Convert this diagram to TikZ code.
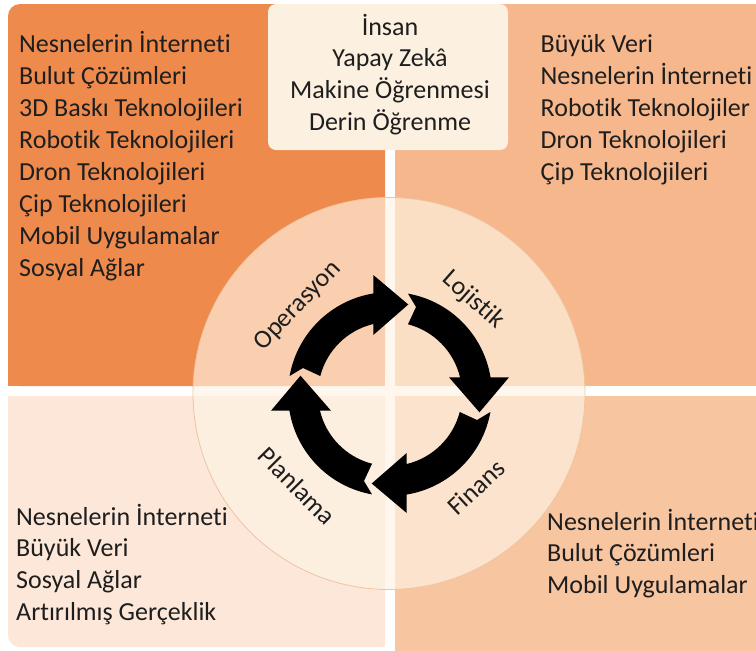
\documentclass[tikz,border=0pt]{standalone}
\usepackage{fontspec}
\setmainfont[Ligatures=NoCommon]{Carlito}
\definecolor{qtl}{HTML}{EF8A4D}
\definecolor{qtr}{HTML}{F6B78C}
\definecolor{qbl}{HTML}{FCE7D8}
\definecolor{qbr}{HTML}{F8C5A1}
\definecolor{boxc}{HTML}{FCF1E0}
\definecolor{ovc}{HTML}{FFF4E4}
\definecolor{cbord}{HTML}{EEC4A0}
\definecolor{txt}{HTML}{1E1E1E}
\begin{document}
\begin{tikzpicture}[x=1pt,y=-1pt,
  lst/.style={anchor=base west, inner sep=0pt, font=\fontsize{26}{32}\selectfont, text=txt},
  ctr/.style={anchor=base, inner sep=0pt, font=\fontsize{26}{32}\selectfont, text=txt},
  lbl/.style={inner sep=0pt, font=\fontsize{26}{32}\selectfont, text=txt},
  cyc/.style={fill=black}]
\useasboundingbox (0,0) rectangle (756,651);
\fill[white] (0,0) rectangle (756,651);
% quadrants
\fill[qtl, rounded corners=12pt] (8,4) rectangle (385,386);
\fill[qtl] (300,4) rectangle (385,386);
\fill[qtl] (8,300) rectangle (385,386);
\fill[qtr] (395,4) rectangle (756,386);
\fill[qbl, rounded corners=12pt] (8,396) rectangle (385,647);
\fill[qbl] (8,396) rectangle (385,500);
\fill[qbl] (300,396) rectangle (385,647);
\fill[qbr] (395,396) rectangle (756,651);
% top box
\fill[boxc, rounded corners=8pt] (268,4) rectangle (508,150);
% central circle
\fill[ovc, fill opacity=0.66] (389,393.5) circle[radius=196];
\draw[cbord, line width=0.8pt] (389,393.5) circle[radius=196];
% cycle arrows
\begin{scope}[shift={(390,394)}, y=1pt]
\foreach \k in {0,1,2,3}{
  \begin{scope}[rotate=-90*\k]
  \fill[cyc] (-100.4,18) arc[start angle=169.8, end angle=99.4, radius=102]
    -- (-16.7,119) -- (18.3,89.5) -- (-16.7,59) -- (-16.7,70.0)
    arc[start angle=103.4, end angle=165.5, radius=72]
    -- (-87,26) -- cycle;
  \end{scope}
}
\end{scope}
% labels
\node[lbl, rotate=46.3] (op) at (298,306) {Operasyon};
\node[lbl, rotate=-41.4] (lo) at (473,300) {Lojistik};
\node[lbl, rotate=42.8] (fi) at (476,487) {Finans};
\node[lbl, rotate=-45.2] (pl) at (297.5,486) {Planlama};
% top box text
\foreach \t [count=\i from 0] in {İnsan, Yapay Zekâ, Makine Öğrenmesi, Derin Öğrenme}
  \node[ctr] (tb\i) at (390,{35+31.7*\i}) {\t};
% top-left list
\foreach \t [count=\i from 0] in {Nesnelerin İnterneti, Bulut Çözümleri, 3D Baskı Teknolojileri, Robotik Teknolojileri, Dron Teknolojileri, Çip Teknolojileri, Mobil Uygulamalar, Sosyal Ağlar}
  \node[lst] (tl\i) at (19,{52.3+32.05*\i}) {\t};
% top-right list
\foreach \t [count=\i from 0] in {Büyük Veri, Nesnelerin İnterneti, Robotik Teknolojiler, Dron Teknolojileri, Çip Teknolojileri}
  \node[lst] (tr\i) at (540.5,{52.3+32*\i}) {\t};
% bottom-left list
\foreach \t [count=\i from 0] in {Nesnelerin İnterneti, Büyük Veri, Sosyal Ağlar, Artırılmış Gerçeklik}
  \node[lst] (bl\i) at (16,{525+31.7*\i}) {\t};
% bottom-right list
\foreach \t [count=\i from 0] in {Nesnelerin İnterneti, Bulut Çözümleri, Mobil Uygulamalar}
  \node[lst] (br\i) at (547,{530+31.7*\i}) {\t};
\end{tikzpicture}
\end{document}
